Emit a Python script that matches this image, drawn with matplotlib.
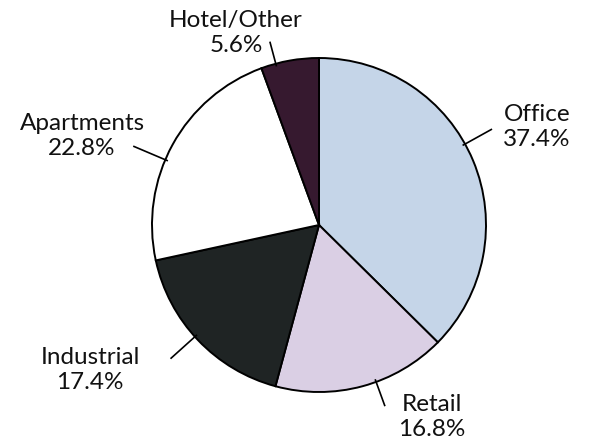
import numpy as np
import matplotlib.pyplot as plt

# Data
categories = ['Office', 'Retail', 'Industrial', 'Apartments', 'Hotel/Other']
shares = [37.4, 16.8, 17.4, 22.8, 5.6]
colors = ['#c5d5e8', '#dacfe4', '#1f2424', '#ffffff', '#36192f']

plt.rcParams['font.family'] = ['Lato', 'DejaVu Sans']

W, H = 591, 444
fig = plt.figure(figsize=(W / 100, H / 100), dpi=100)
ax = fig.add_axes([0, 0, 1, 1])

cx, cy, r = 319, H - 225, 167
ax.pie(shares, colors=colors, startangle=90, counterclock=False,
       center=(cx, cy), radius=r, frame=True,
       wedgeprops=dict(edgecolor='black', linewidth=1.4))
ax.set_xlim(0, W)
ax.set_ylim(0, H)
ax.set_aspect('equal')
ax.axis('off')

# label layout: leader angle (deg), leader length, text position (pixels)
layout = {
    'Office':      (29, 30, (537, 127)),
    'Retail':      (290, 25, (432, 417)),
    'Industrial':  (222, 32, (90, 370)),
    'Apartments':  (157, 34, (82, 136)),
    'Hotel/Other': (105, 22, (236, 33)),
}

for name, val in zip(categories, shares):
    ang, ln, (tx, ty) = layout[name]
    a = np.deg2rad(ang)
    x0, y0 = cx + (r - 2) * np.cos(a), cy + (r - 2) * np.sin(a)
    x1, y1 = cx + (r + ln) * np.cos(a), cy + (r + ln) * np.sin(a)
    ax.plot([x0, x1], [y0, y1], color='black', lw=1.2)
    ax.text(tx, H - ty, f'{name}\n{val}%', ha='center', va='center',
            fontsize=17.5, linespacing=1.22, color='#111111')

fig.savefig('out.png', dpi=100)
